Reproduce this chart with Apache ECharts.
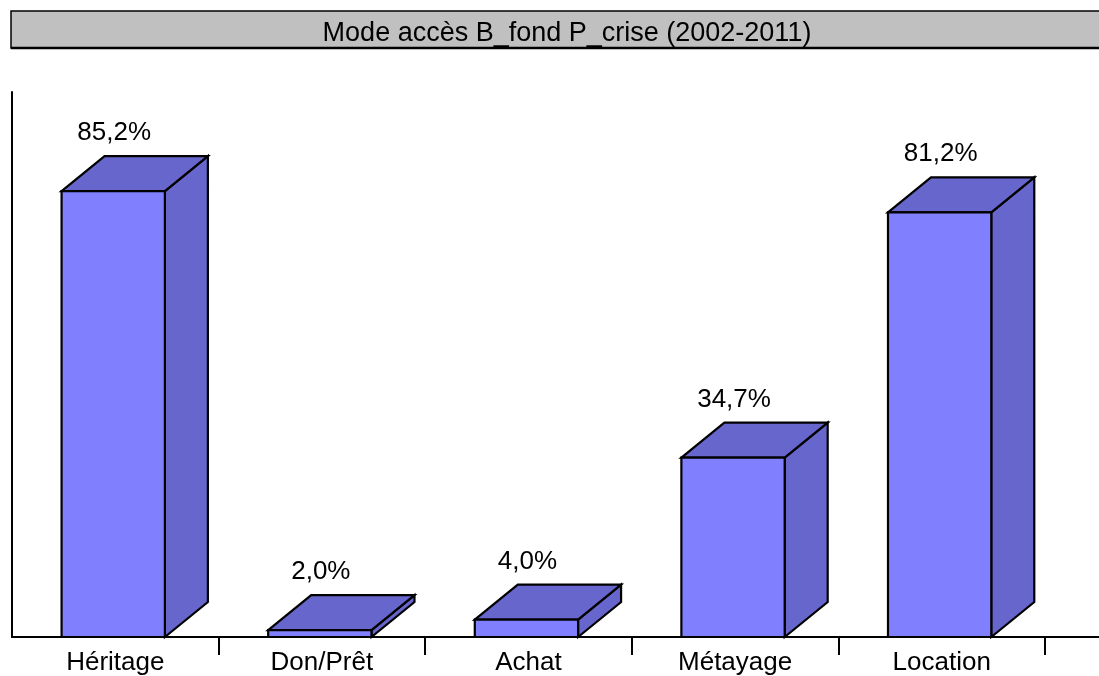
<!DOCTYPE html>
<html lang="fr">
<head>
    <meta charset="UTF-8">
    <title>Mode accès B_fond P_crise</title>
    <script src="https://cdn.jsdelivr.net/npm/echarts@6/dist/echarts.min.js"></script>
    <style>
        body, html { margin: 0; padding: 0; width: 100%; height: 100%; background: #fff; }
        #chart { width: 1099px; height: 676px; }
    </style>
</head>
<body>
<div id="chart"></div>
<script type="text/javascript">
    var categories = ['Héritage', 'Don/Prêt', 'Achat', 'Métayage', 'Location'];
    var values = [85.2, 2.0, 4.0, 34.7, 81.2];
    var titleText = 'Mode accès B_fond P_crise (2002-2011)';

    var yMin = 0.7, yMax = 104;
    var font = '"Liberation Sans", Arial, sans-serif';

    var myChart = echarts.init(document.getElementById('chart'));

    // barre 3D : face avant, dessus, côté
    function renderBar(params, api) {
        var idx = api.value(0);
        var top = api.coord([idx, api.value(1)]);
        var base = api.coord([idx, yMin]);
        var cw = api.size([1, 0])[0];
        var w = cw * 0.5;
        var x0 = top[0] - cw * 0.26, x1 = x0 + w;
        var yt = top[1], yb = base[1];
        var dx = 43, dy = -35;
        var stroke = { stroke: '#000', lineWidth: 2.2, lineJoin: 'miter' };
        return {
            type: 'group',
            children: [
                { type: 'polygon', shape: { points: [[x1, yt], [x1 + dx, yt + dy], [x1 + dx, yb + dy], [x1, yb]] },
                  style: Object.assign({ fill: '#6666cc' }, stroke) },
                { type: 'polygon', shape: { points: [[x0, yt], [x0 + dx, yt + dy], [x1 + dx, yt + dy], [x1, yt]] },
                  style: Object.assign({ fill: '#6666cc' }, stroke) },
                { type: 'rect', shape: { x: x0, y: yt, width: w, height: yb - yt },
                  style: Object.assign({ fill: '#8080ff' }, stroke) },
                { type: 'text', x: x0 + w / 2 + 1, y: yt + dy - 23,
                  style: { text: api.value(1).toFixed(1).replace('.', ',') + '%', fill: '#000',
                           font: '26px ' + font, align: 'center', verticalAlign: 'middle' } }
            ]
        };
    }

    var option = {
        animation: false,
        title: {
            text: titleText,
            left: 562,
            top: 15,
            textAlign: 'center',
            textStyle: { fontFamily: font, fontSize: 27, fontWeight: 'normal', color: '#000' }
        },
        graphic: [
            { type: 'rect', shape: { x: 11, y: 11, width: 1100, height: 37 },
              style: { fill: '#c0c0c0', stroke: '#000', lineWidth: 1.5 }, z: -1 },
            { type: 'line', shape: { x1: 11, y1: 48, x2: 1099, y2: 48 },
              style: { stroke: '#000', lineWidth: 2.5 }, z: -1 },
            { type: 'line', shape: { x1: 1045, y1: 637, x2: 1099, y2: 637 },
              style: { stroke: '#000', lineWidth: 2 } }
        ],
        grid: { left: 12, right: 54, top: 92, bottom: 39 },
        xAxis: {
            type: 'category',
            data: categories,
            axisLine: { lineStyle: { color: '#000', width: 2 } },
            axisTick: {
                show: true, length: 18, lineStyle: { color: '#000', width: 2 },
                interval: function (i) { return i !== 0; }
            },
            axisLabel: { fontFamily: font, fontSize: 26, color: '#000', margin: 13 }
        },
        yAxis: {
            type: 'value',
            min: yMin,
            max: yMax,
            axisLine: { show: true, lineStyle: { color: '#000', width: 2 } },
            axisTick: { show: false },
            axisLabel: { show: false },
            splitLine: { show: false }
        },
        series: [{
            type: 'custom',
            renderItem: renderBar,
            clip: false,
            encode: { x: 0, y: 1 },
            data: values.map(function (v, i) { return [i, v]; })
        }]
    };

    myChart.setOption(option);
</script>
</body>
</html>
